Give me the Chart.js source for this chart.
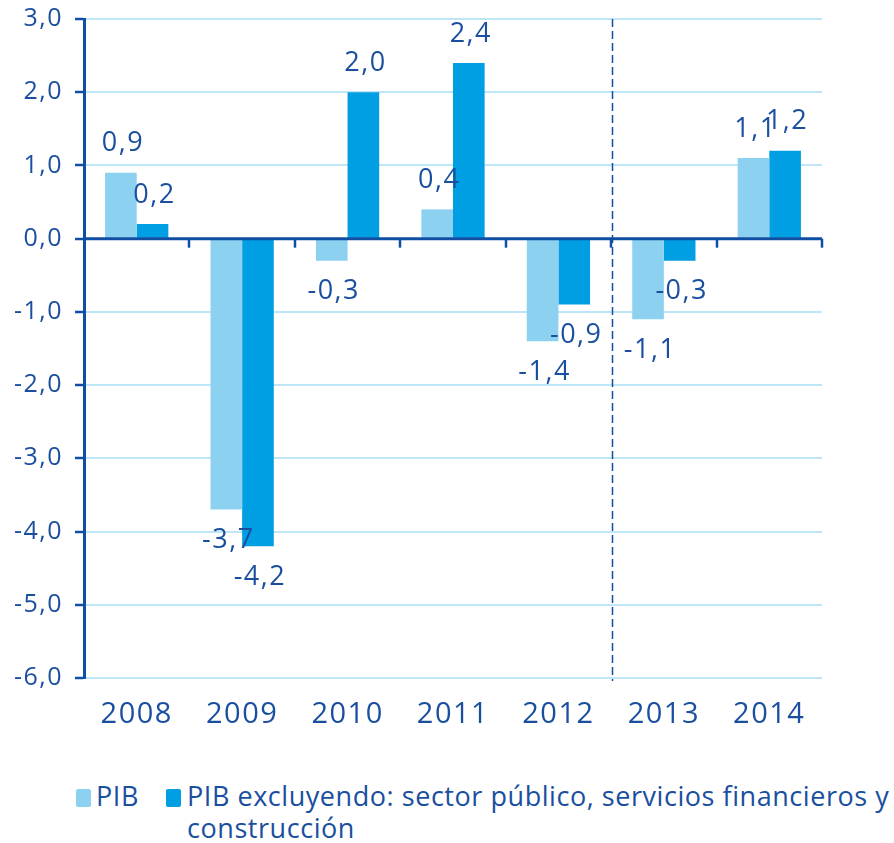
<!DOCTYPE html>
<html lang="es">
<head>
<meta charset="UTF-8">
<title>PIB y PIB excluyendo sector público, servicios financieros y construcción</title>
<script src="https://cdn.jsdelivr.net/npm/chart.js"></script>
<style>
  * { margin: 0; padding: 0; box-sizing: border-box; }
  body { background: #fff; width: 894px; height: 843px; overflow: hidden; position: relative; font-family: "Open Sans", sans-serif; color: #1a4f9f; }
  #wrap { position: absolute; left: 0; top: 0; width: 894px; height: 760px; }
  .sq { position: absolute; width: 15px; height: 18px; border-radius: 2px; }
  .txt { position: absolute; font-size: 27px; line-height: 32px; letter-spacing: 0.55px; white-space: nowrap; }
</style>
</head>
<body>
<div id="wrap"><canvas id="chart" width="894" height="760"></canvas></div>

<div class="sq" style="left:76px; top:789px; background:#8dd1f1;"></div>
<div class="txt" style="left:96px; top:780px;">PIB</div>
<div class="sq" style="left:166px; top:789px; background:#009ee2;"></div>
<div class="txt" style="left:187px; top:780px;">PIB excluyendo: sector público, servicios financieros y<br>construcción</div>

<script>
// data
const years = ['2008', '2009', '2010', '2011', '2012', '2013', '2014'];
const pib = [0.9, -3.7, -0.3, 0.4, -1.4, -1.1, 1.1];
const pibExcl = [0.2, -4.2, 2.0, 2.4, -0.9, -0.3, 1.2];
const yMin = -6;
const yMax = 3;

const DARK = '#0f4ea3';
const TEXT = '#1a4f9f';
const GRID = '#bfe6f7';

const fmt = v => v.toFixed(1).replace('.', ',');

// zero line, category ticks and dashed separator drawn over the bars
const axisDecor = {
  id: 'axisDecor',
  beforeDraw(chart) {
    chart.ctx.letterSpacing = '1.5px';
  },
  afterDatasetsDraw(chart) {
    const { ctx, chartArea, scales } = chart;
    const x = scales.x, y = scales.y;
    const y0 = y.getPixelForValue(0);
    const step = x.width / years.length;
    ctx.save();
    ctx.strokeStyle = DARK;
    ctx.lineWidth = 3;
    ctx.beginPath();
    ctx.moveTo(chartArea.left, y0);
    ctx.lineTo(chartArea.right, y0);
    ctx.stroke();
    ctx.lineWidth = 2.5;
    for (let k = 1; k <= years.length; k++) {
      const bx = Math.round(x.left + k * step);
      ctx.beginPath();
      ctx.moveTo(bx, y0);
      ctx.lineTo(bx, y0 + 9);
      ctx.stroke();
    }
    // separator between 2012 and 2013
    const sx = Math.round(x.left + 5 * step) + 1.5;
    ctx.lineWidth = 1.5;
    ctx.setLineDash([8, 4]);
    ctx.beginPath();
    ctx.moveTo(sx, chartArea.top);
    ctx.lineTo(sx, chartArea.bottom + 3);
    ctx.stroke();
    ctx.restore();
  },
  afterDraw(chart) {
    const ctx = chart.ctx;
    ctx.save();
    ctx.font = '27px "Open Sans"';
    ctx.fillStyle = TEXT;
    ctx.textAlign = 'center';
    ctx.textBaseline = 'middle';
    chart.data.datasets.forEach((ds, di) => {
      const meta = chart.getDatasetMeta(di);
      meta.data.forEach((bar, i) => {
        const v = ds.data[i];
        const ly = v >= 0 ? bar.y - 29 : bar.y + 31;
        ctx.fillText(fmt(v), bar.x + 2, ly);
      });
    });
    ctx.restore();
  }
};

new Chart(document.getElementById('chart'), {
  type: 'bar',
  data: {
    labels: years,
    datasets: [
      { label: 'PIB', data: pib, backgroundColor: '#8dd1f1', categoryPercentage: 0.6, barPercentage: 1.0 },
      { label: 'PIB excluyendo: sector público, servicios financieros y construcción', data: pibExcl, backgroundColor: '#009ee2', categoryPercentage: 0.6, barPercentage: 1.0 }
    ]
  },
  options: {
    responsive: false,
    animation: false,
    devicePixelRatio: 1,
    layout: { padding: { top: 19, right: 72, left: 0, bottom: 0 } },
    plugins: { legend: { display: false }, tooltip: { enabled: false } },
    scales: {
      x: {
        grid: { display: false, drawTicks: false },
        border: { display: false },
        ticks: { color: TEXT, font: { family: 'Open Sans', size: 29 }, padding: 19, maxRotation: 0 },
        afterFit(scale) { scale.height = 82; }
      },
      y: {
        min: yMin,
        max: yMax,
        ticks: {
          stepSize: 1,
          color: TEXT,
          font: { family: 'Open Sans', size: 25 },
          padding: 12,
          callback: v => fmt(v)
        },
        grid: { color: GRID, lineWidth: 2, tickColor: DARK, tickLength: 9, tickWidth: 2.5 },
        border: { color: DARK, width: 3 },
        afterFit(scale) {
          scale.width = 84;
          scale.paddingTop = 0;
          scale.paddingBottom = 0;
        }
      }
    }
  },
  plugins: [axisDecor]
});
</script>
</body>
</html>
